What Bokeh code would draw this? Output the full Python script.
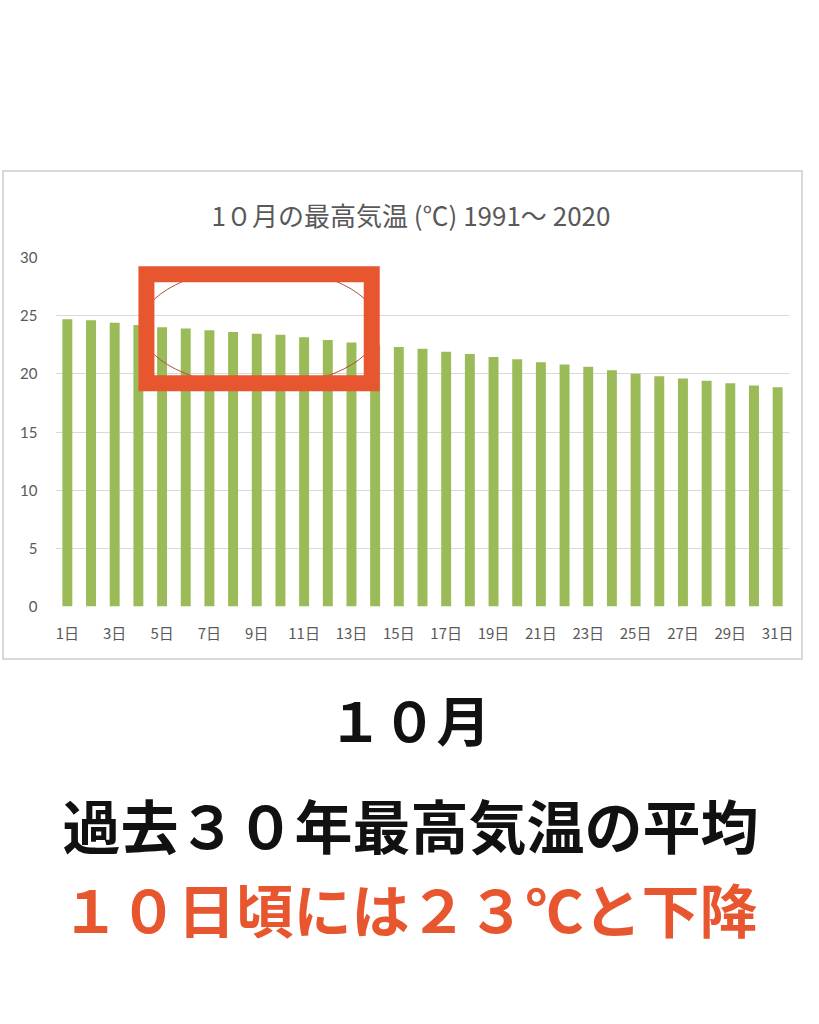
from bokeh.plotting import figure
from bokeh.models import (Range1d, FixedTicker, BoxAnnotation, Label, Spacer, ColumnDataSource)
from bokeh.layouts import column, row
from bokeh.embed import file_html
from bokeh.resources import INLINE

# ---- data ----
days = list(range(1, 32))
max_temp = [24.7, 24.6, 24.4, 24.2, 24.0, 23.9, 23.75, 23.6, 23.45, 23.35,
            23.15, 22.9, 22.7, 22.5, 22.3, 22.15, 21.9, 21.7, 21.45, 21.25,
            21.0, 20.8, 20.6, 20.3, 20.0, 19.8, 19.6, 19.4, 19.2, 19.0, 18.85]
tick_days = list(range(1, 32, 2))
tick_labels = [f"{d}日" for d in tick_days]
y_ticks = [0, 5, 10, 15, 20, 25, 30]
chart_title = "1０月の最高気温 (℃) 1991～ 2020"
headline1 = "１０月"
headline2 = "過去３０年最高気温の平均"
headline3 = "１０日頃には２３℃と下降"

GREEN = "#9BBB59"
RED = "#E8562F"
GRAY = "#595959"
GRID = "#D9D9D9"
JP = "Noto Sans CJK JP"

# ---- chart ----
p = figure(width=801, height=490, output_backend="svg", toolbar_location=None,
           x_range=Range1d(0.5, 31.5), y_range=Range1d(0, 30),
           min_border_left=51, min_border_right=16, min_border_top=85, min_border_bottom=56)
p.styles = {"border": f"2px solid {GRID}"}
p.outline_line_color = None
p.background_fill_color = "white"
p.border_fill_color = "white"

p.title.text = chart_title
p.title.align = "left"
p.title.offset = 156
p.title.vertical_align = "top"
p.title.standoff = 45
p.title.text_color = GRAY
p.title.text_font = JP
p.title.text_font_style = "normal"
p.title.text_font_size = "26px"

src = ColumnDataSource(dict(day=days, temp=max_temp))
p.vbar(x="day", top="temp", width=0.42, source=src, fill_color=GREEN, line_color=None)

p.xgrid.grid_line_color = None
p.ygrid.grid_line_color = GRID
p.ygrid.grid_line_width = 1

p.yaxis.ticker = FixedTicker(ticks=y_ticks)
p.yaxis.axis_line_color = None
p.yaxis.major_tick_line_color = None
p.yaxis.minor_tick_line_color = None
p.yaxis.major_label_text_color = GRAY
p.yaxis.major_label_text_font = "Lato"
p.yaxis.major_label_text_font_size = "15px"
p.yaxis.major_label_standoff = 12

p.xaxis.ticker = FixedTicker(ticks=tick_days)
p.xaxis.major_label_overrides = {d: lab for d, lab in zip(tick_days, tick_labels)}
p.xaxis.axis_line_color = None
p.xaxis.major_tick_line_color = None
p.xaxis.minor_tick_line_color = None
p.xaxis.major_label_text_color = GRAY
p.xaxis.major_label_text_font = JP
p.xaxis.major_label_text_font_size = "15px"
p.xaxis.major_label_standoff = 9

# highlight: thin oval + thick red box
p.ellipse(x=[9.12], y=[24.03], width=[238], height=[119], width_units="screen",
          height_units="screen", fill_color=None, line_color="#B0503A", line_width=1)
p.add_layout(BoxAnnotation(left=4.34, right=13.856, bottom=19.19, top=28.57,
                           fill_alpha=0, line_color=RED, line_alpha=1.0, line_width=16,
                           line_join="miter", level="overlay"))

# ---- headline text ----
t = figure(width=803, height=350, output_backend="svg", toolbar_location=None,
           x_range=Range1d(0, 803), y_range=Range1d(0, 350),
           min_border=0)
t.axis.visible = False
t.grid.visible = False
t.outline_line_color = None
t.add_layout(Label(x=409, y=350 - 58, text=headline1, text_align="center", text_baseline="middle",
                   text_color="#111111", text_font=JP, text_font_style="bold", text_font_size="54px"))
t.add_layout(Label(x=410, y=350 - 163, text=headline2, text_align="center", text_baseline="middle",
                   text_color="#111111", text_font=JP, text_font_style="bold", text_font_size="58px"))
t.add_layout(Label(x=409, y=350 - 247, text=headline3, text_align="center", text_baseline="middle",
                   text_color=RED, text_font=JP, text_font_style="bold", text_font_size="58px"))

layout = column(Spacer(height=170, width=803), row(Spacer(width=2, height=490), p), t)
open("out.html", "w").write(file_html(layout, INLINE))
